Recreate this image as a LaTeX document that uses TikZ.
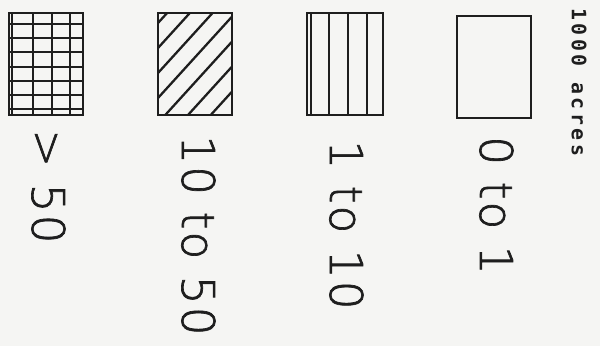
\documentclass[tikz,border=0pt]{standalone}
\usepackage{fontspec}
\newfontfamily\plotfont[LetterSpace=5, FakeBold=1.5]{DejaVu Sans ExtraLight}
\newfontfamily\headfont[LetterSpace=18]{DejaVu Sans Mono Bold}
\definecolor{paper}{RGB}{245,245,243}
\definecolor{ink}{RGB}{30,30,30}
\tikzset{
    legbox/.style={draw=ink, line width=1.5pt},
    hatch/.style={draw=ink, line width=1.3pt},
    rangelabel/.style={rotate=-90, anchor=base west, inner sep=0pt, text=ink,
        font=\plotfont\fontsize{25.7}{30}\selectfont},
    unitlabel/.style={rotate=-90, anchor=base west, inner sep=0pt, text=ink,
        font=\headfont\fontsize{11.3}{13}\selectfont},
}
\begin{document}
\begin{tikzpicture}[x=0.02cm, y=-0.02cm]
    \fill[paper] (0,0) rectangle (600,346);
    % > 50
    \foreach \x in {12,33,52,70} \draw[hatch] (\x,13) -- (\x,115);
    \foreach \y in {24,38,52,67,81,95,109} \draw[hatch] (9,\y) -- (83,\y);
    \draw[legbox] (9,13) rectangle (83,115);
    % 10 to 50
    \begin{scope}
        \clip (158,13) rectangle (232,115);
        \foreach \y in {23,48,...,173} \draw[hatch] (158,\y) -- ++(100,-110);
    \end{scope}
    \draw[legbox] (158,13) rectangle (232,115);
    % 1 to 10
    \foreach \x in {311,329,348,367} \draw[hatch] (\x,13) -- (\x,115);
    \draw[legbox] (307,13) rectangle (383,115);
    % 0 to 1
    \draw[legbox] (457,16) rectangle (531,118);
    \node[rangelabel] (over50) at (32,129) {> 50};
    \node[rangelabel] (tento50) at (182,135) {10 to 50};
    \node[rangelabel] (onetoten) at (330,140) {1 to 10};
    \node[rangelabel] (zerotoone) at (480,136) {0 to 1};
    \node[unitlabel] (unit) at (572,8) {1000 acres};
\end{tikzpicture}
\end{document}
